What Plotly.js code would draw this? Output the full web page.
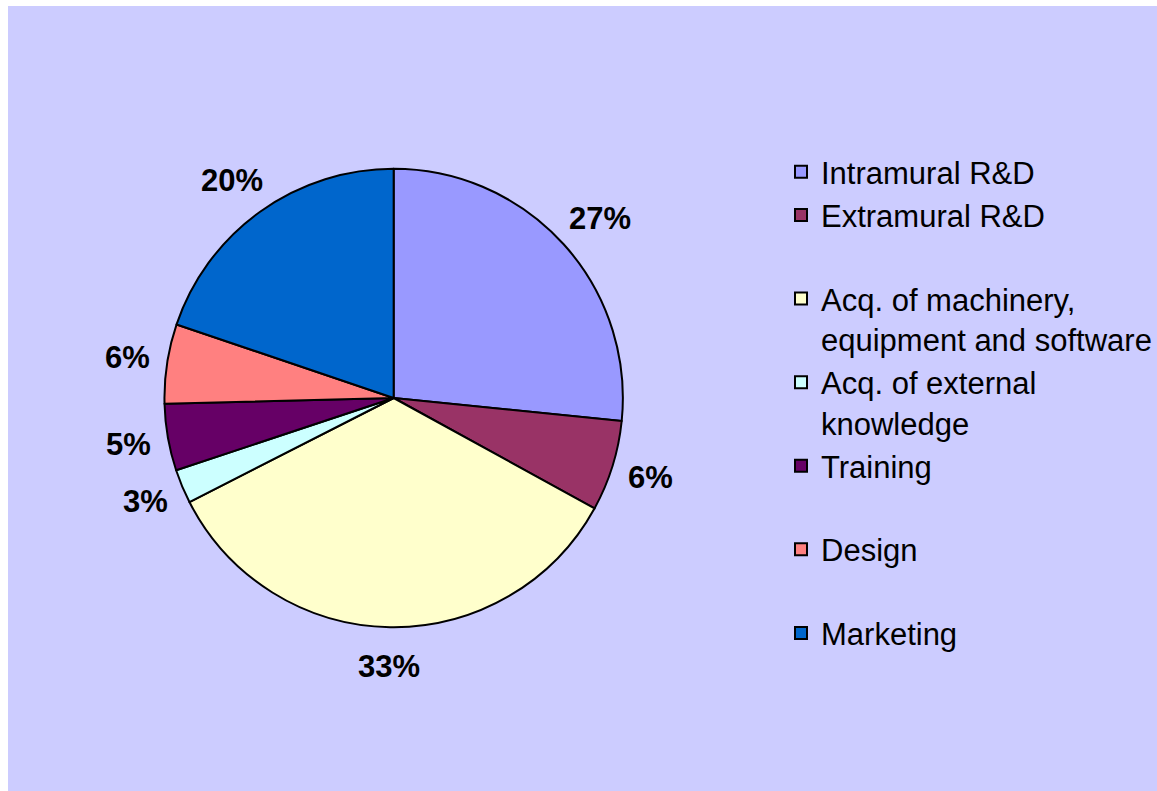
<!DOCTYPE html>
<html>
<head>
<meta charset="utf-8">
<script src="https://cdn.plot.ly/plotly-3.0.1.min.js"></script>
<style>
  html, body { margin: 0; padding: 0; background: #ffffff; }
  #chart { position: absolute; left: 8px; top: 6px; width: 1149px; height: 785px; }
</style>
</head>
<body>
<div id="chart"></div>
<script>
// Categories (legend order)
const categories = [
  "Intramural R&D",
  "Extramural R&D",
  "Acq. of machinery,<br>equipment and software",
  "Acq. of external<br>knowledge",
  "Training",
  "Design",
  "Marketing"
];
// Slice sizes (percent of total)
const shares = [26.6, 6.4, 34.5, 2.4, 4.7, 5.6, 19.8];
// Data labels as printed on the chart
const percentLabels = ["27%", "6%", "33%", "3%", "5%", "6%", "20%"];
const sliceColors = ["#9999FF", "#993366", "#FFFFCC", "#CCFFFF", "#660066", "#FF8080", "#0066CC"];

const FONT = "Liberation Sans, Arial, sans-serif";
const LABEL_SIZE = 31;

// Legend spacing: single-line entries (except the first and last) get a blank spacer line
const legendNames = categories.map((c, i) =>
  (i === 0 || c.indexOf("<br>") >= 0 || i === categories.length - 1) ? c : c + "<br>&nbsp;"
);

const W = 1149, H = 785;
const cx = 387, cy = 392, R = 230;

const trace = {
  type: "pie",
  labels: legendNames,
  values: shares,
  textinfo: "none",
  sort: false,
  direction: "clockwise",
  rotation: 0,
  marker: { colors: sliceColors, line: { color: "#000000", width: 2 } },
  domain: {
    x: [(cx - R) / W, (cx + R) / W],
    y: [(H - cy - R) / H, (H - cy + R) / H]
  },
  hoverinfo: "label+percent"
};

// Data labels placed outside each slice along its mid-angle (Excel style)
const total = shares.reduce((a, b) => a + b, 0);
let cum = 0;
const annotations = shares.map((v, i) => {
  const mid = (cum + v / 2) / total * 2 * Math.PI;
  cum += v;
  const txt = percentLabels[i];
  const digits = txt.length - 1;
  const w = (digits * 0.556 + 0.889) * LABEL_SIZE;
  const h = 1.3 * LABEL_SIZE;
  const gap = 18;
  const px = cx + (R + gap + w / 2) * Math.sin(mid);
  const py = cy - (R + gap + h / 2) * Math.cos(mid);
  return {
    xref: "paper", yref: "paper",
    x: px / W, y: 1 - py / H,
    xanchor: "center", yanchor: "middle",
    text: "<b>" + txt + "</b>",
    showarrow: false,
    font: { family: FONT, size: LABEL_SIZE, color: "#000000" }
  };
});

const layout = {
  width: W,
  height: H,
  margin: { l: 0, r: 0, t: 0, b: 0 },
  paper_bgcolor: "#CCCCFF",
  showlegend: true,
  legend: {
    x: 776 / W,
    xanchor: "left",
    y: 1 - 139 / H,
    yanchor: "top",
    valign: "top",
    bgcolor: "rgba(0,0,0,0)",
    font: { family: FONT, size: 31, color: "#000000" },
    traceorder: "normal"
  },
  annotations: annotations,
  font: { family: FONT }
};

Plotly.newPlot("chart", [trace], layout, { displayModeBar: false, staticPlot: true });
</script>
</body>
</html>
